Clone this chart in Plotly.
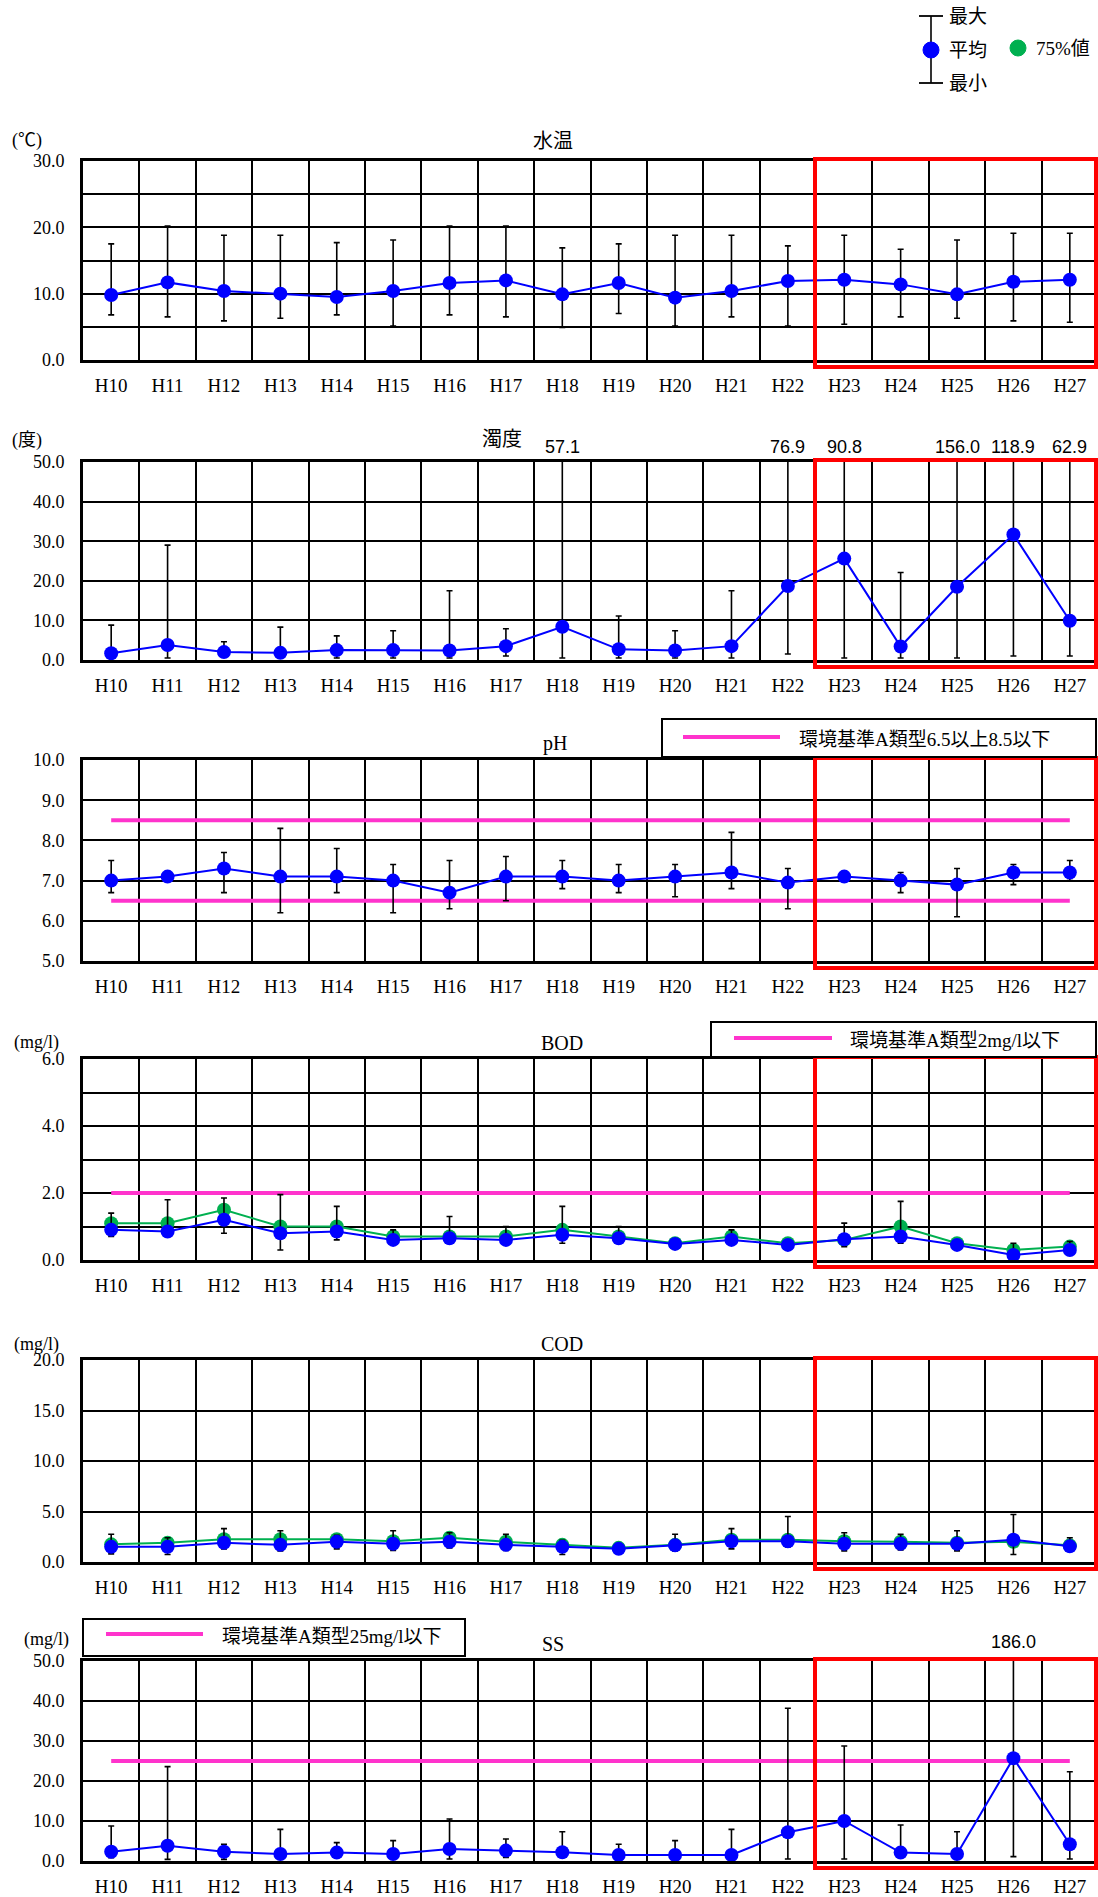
import plotly.graph_objects as go

W, H = 1098, 1897

years = ["H10", "H11", "H12", "H13", "H14", "H15", "H16", "H17", "H18",
         "H19", "H20", "H21", "H22", "H23", "H24", "H25", "H26", "H27"]

# 水温 (℃)
temp_max = [17.5, 20.2, 18.8, 18.8, 17.7, 18.1, 20.2, 20.2, 16.9, 17.5, 18.8, 18.8, 17.2, 18.8, 16.7, 18.1, 19.1, 19.1]
temp_mean = [9.8, 11.7, 10.4, 10.0, 9.5, 10.4, 11.6, 12.0, 9.9, 11.6, 9.4, 10.4, 11.9, 12.1, 11.4, 9.9, 11.8, 12.1]
temp_min = [6.8, 6.5, 5.9, 6.3, 6.8, 5.1, 6.8, 6.5, 4.9, 7.0, 5.1, 6.5, 5.1, 5.4, 6.5, 6.3, 5.9, 5.7]

# 濁度 (度)
turb_max = [8.8, 29.0, 4.6, 8.3, 6.1, 7.4, 17.5, 7.9, 57.1, 11.1, 7.4, 17.5, 76.9, 90.8, 22.1, 156.0, 118.9, 62.9]
turb_mean = [1.7, 3.8, 2.0, 1.8, 2.5, 2.5, 2.4, 3.5, 8.4, 2.7, 2.4, 3.5, 18.7, 25.6, 3.4, 18.5, 31.7, 9.9]
turb_min = [1.0, 0.5, 1.0, 1.0, 0.5, 0.5, 0.5, 1.0, 0.5, 0.5, 0.5, 0.5, 1.5, 0.5, 0.5, 0.5, 1.0, 1.0]

# pH
ph_max = [7.5, 7.2, 7.7, 8.3, 7.8, 7.4, 7.5, 7.6, 7.5, 7.4, 7.4, 8.2, 7.3, 7.2, 7.2, 7.3, 7.4, 7.5]
ph_mean = [7.0, 7.1, 7.3, 7.1, 7.1, 7.0, 6.7, 7.1, 7.1, 7.0, 7.1, 7.2, 6.95, 7.1, 7.0, 6.9, 7.2, 7.2]
ph_min = [6.7, 7.0, 6.7, 6.2, 6.7, 6.2, 6.3, 6.5, 6.8, 6.7, 6.6, 6.8, 6.3, 7.05, 6.7, 6.1, 6.9, 7.0]

# BOD (mg/l)
bod_max = [1.4, 1.8, 1.85, 1.95, 1.6, 0.9, 1.3, 1.0, 1.6, 1.0, 0.5, 0.9, 0.5, 1.1, 1.75, 0.5, 0.5, 0.55]
bod_p75 = [1.1, 1.1, 1.5, 1.0, 1.0, 0.7, 0.7, 0.7, 0.9, 0.7, 0.5, 0.7, 0.5, 0.6, 1.0, 0.5, 0.3, 0.4]
bod_mean = [0.9, 0.85, 1.2, 0.8, 0.85, 0.6, 0.65, 0.6, 0.75, 0.65, 0.48, 0.6, 0.45, 0.62, 0.7, 0.45, 0.15, 0.3]
bod_min = [0.7, 0.8, 0.8, 0.3, 0.6, 0.5, 0.5, 0.5, 0.5, 0.5, 0.4, 0.5, 0.4, 0.4, 0.5, 0.4, 0.1, 0.2]

# COD (mg/l)
cod_max = [2.75, 2.4, 3.3, 3.1, 2.65, 3.1, 2.9, 2.75, 2.15, 1.6, 2.75, 3.3, 4.5, 2.9, 2.75, 3.1, 4.7, 2.4]
cod_p75 = [1.75, 1.9, 2.25, 2.25, 2.25, 2.05, 2.4, 2.0, 1.7, 1.4, 1.7, 2.2, 2.2, 2.05, 2.0, 1.9, 2.0, 1.65]
cod_mean = [1.5, 1.5, 1.9, 1.7, 2.0, 1.8, 2.0, 1.7, 1.5, 1.3, 1.65, 2.05, 2.05, 1.8, 1.8, 1.8, 2.2, 1.55]
cod_min = [0.8, 0.75, 1.3, 1.1, 1.3, 1.15, 1.4, 1.15, 0.75, 1.0, 1.1, 1.3, 1.5, 1.1, 1.2, 1.1, 0.75, 1.1]

# SS (mg/l)
ss_max = [8.75, 23.6, 4.2, 7.9, 4.6, 5.1, 10.5, 5.5, 7.3, 4.2, 5.1, 7.9, 38.2, 28.75, 9.0, 7.3, 186.0, 22.3]
ss_mean = [2.3, 3.8, 2.3, 1.75, 2.1, 1.75, 3.0, 2.6, 2.2, 1.5, 1.5, 1.5, 7.2, 10.0, 2.1, 1.75, 25.7, 4.2]
ss_min = [0.8, 0.4, 0.4, 1.0, 1.0, 1.0, 0.5, 0.9, 1.0, 0.8, 1.0, 1.0, 0.5, 0.5, 1.0, 1.0, 1.1, 0.5]

# 環境基準
ph_std_low = 6.5
ph_std_high = 8.5
bod_std = 2.0
ss_std = 25.0

FONT = "Liberation Serif, Noto Sans CJK JP, serif"
BLUE = "#0000FF"
GREEN = "#00B050"
MAGENTA = "#FF33CC"


def xp(px):
    return px / W


def yp(py):
    return 1 - py / H


panels = [
    dict(title="水温", unit="(℃)", top=161, bottom=360, yr=[0, 30], dtick=10, minor=5,
         mx=temp_max, mean=temp_mean, mn=temp_min, p75=None, std=[], tx=553, ty=141, ux=27, uy=140),
    dict(title="濁度", unit="(度)", top=462, bottom=660, yr=[0, 50], dtick=10, minor=None,
         mx=turb_max, mean=turb_mean, mn=turb_min, p75=None, std=[], tx=502, ty=439, ux=27, uy=441),
    dict(title="pH", unit="", top=760, bottom=961, yr=[5, 10], dtick=1, minor=None,
         mx=ph_max, mean=ph_mean, mn=ph_min, p75=None, std=[ph_std_low, ph_std_high], tx=555, ty=744, ux=27, uy=744),
    dict(title="BOD", unit="(mg/l)", top=1059, bottom=1260, yr=[0, 6], dtick=2, minor=1,
         mx=bod_max, mean=bod_mean, mn=bod_min, p75=bod_p75, std=[bod_std], tx=562, ty=1043, ux=36, uy=1042),
    dict(title="COD", unit="(mg/l)", top=1360, bottom=1562, yr=[0, 20], dtick=5, minor=None,
         mx=cod_max, mean=cod_mean, mn=cod_min, p75=cod_p75, std=[], tx=562, ty=1344, ux=36, uy=1344),
    dict(title="SS", unit="(mg/l)", top=1661, bottom=1861, yr=[0, 50], dtick=10, minor=None,
         mx=ss_max, mean=ss_mean, mn=ss_min, p75=None, std=[ss_std], tx=553, ty=1644, ux=46, uy=1639),
]

fig = go.Figure()
shapes = []
annotations = []
layout_axes = {}

for i, p in enumerate(panels, start=1):
    xa = "x" if i == 1 else f"x{i}"
    ya = "y" if i == 1 else f"y{i}"
    xkey = "xaxis" if i == 1 else f"xaxis{i}"
    ykey = "yaxis" if i == 1 else f"yaxis{i}"

    # standard lines
    for s in p["std"]:
        fig.add_trace(go.Scatter(x=years, y=[s] * len(years), mode="lines",
                                 line=dict(color=MAGENTA, width=4), xaxis=xa, yaxis=ya,
                                 showlegend=False, hoverinfo="skip"))
    # 75% values
    if p["p75"] is not None:
        fig.add_trace(go.Scatter(x=years, y=p["p75"], mode="lines+markers",
                                 line=dict(color=GREEN, width=2),
                                 marker=dict(color=GREEN, size=14),
                                 xaxis=xa, yaxis=ya, showlegend=False))
    # mean with min/max error bars
    fig.add_trace(go.Scatter(
        x=years, y=p["mean"], mode="lines+markers",
        line=dict(color=BLUE, width=2),
        marker=dict(color=BLUE, size=14),
        error_y=dict(type="data", symmetric=False,
                     array=[a - b for a, b in zip(p["mx"], p["mean"])],
                     arrayminus=[b - c for b, c in zip(p["mean"], p["mn"])],
                     color="black", thickness=1.6, width=3),
        xaxis=xa, yaxis=ya, showlegend=False))

    # off-scale maximum labels
    for yr_, v in zip(years, p["mx"]):
        if v > p["yr"][1]:
            annotations.append(dict(x=yr_, y=p["yr"][1], xref=xa, yref=ya, text=f"{v:.1f}",
                                    showarrow=False, yanchor="bottom", xanchor="center",
                                    yshift=3 if i == 2 else 7,
                                    font=dict(family="Liberation Sans Narrow, Liberation Sans, Arial",
                                              size=18, color="black")))

    yd = [yp(p["bottom"]), yp(p["top"])]
    layout_axes[xkey] = dict(
        domain=[xp(83), 1.0], anchor=ya, type="category", range=[-0.5, 17.5],
        tickson="boundaries", showgrid=True, gridcolor="black", gridwidth=1.5,
        showline=True, linecolor="black", linewidth=3, mirror=True, ticks="",
        ticklabelstandoff=6, automargin=False,
        tickfont=dict(family=FONT, size=19, color="black"), fixedrange=True)
    yaxis = dict(
        domain=yd, anchor=xa, range=p["yr"], dtick=p["dtick"], tick0=p["yr"][0],
        tickformat=".1f", showgrid=True, gridcolor="black", gridwidth=2,
        zeroline=False, showline=True, linecolor="black", linewidth=3, mirror=True,
        ticks="", ticklabelstandoff=12, automargin=False,
        tickfont=dict(family=FONT, size=18, color="black"), fixedrange=True)
    if p["minor"]:
        yaxis["minor"] = dict(dtick=p["minor"], showgrid=True, gridcolor="black", gridwidth=1.5)
    layout_axes[ykey] = yaxis

    # title and unit
    annotations.append(dict(x=xp(p["tx"]), y=yp(p["ty"]), xref="paper", yref="paper",
                            text=p["title"], showarrow=False, xanchor="center", yanchor="middle",
                            font=dict(family=FONT, size=20, color="black")))
    if p["unit"]:
        annotations.append(dict(x=xp(p["ux"]), y=yp(p["uy"]), xref="paper", yref="paper",
                                text=p["unit"], showarrow=False, xanchor="center", yanchor="middle",
                                font=dict(family=FONT, size=18, color="black")))

    # red highlight box
    shapes.append(dict(type="rect", xref="paper", yref="paper",
                       x0=xp(815), x1=xp(1096), y0=yp(p["bottom"] + 7), y1=yp(p["top"] - 2),
                       line=dict(color="#FF0000", width=4), fillcolor="rgba(0,0,0,0)", layer="above"))


def std_legend(x0, x1, y0, y1, lx0, lx1, ly, tx, text):
    shapes.append(dict(type="rect", xref="paper", yref="paper", x0=xp(x0), x1=xp(x1),
                       y0=yp(y1), y1=yp(y0), line=dict(color="black", width=2), fillcolor="white",
                       layer="above"))
    shapes.append(dict(type="line", xref="paper", yref="paper", x0=xp(lx0), x1=xp(lx1),
                       y0=yp(ly), y1=yp(ly), line=dict(color=MAGENTA, width=4), layer="above"))
    annotations.append(dict(x=xp(tx), y=yp(ly + 2), xref="paper", yref="paper", text=text,
                            showarrow=False, xanchor="left", yanchor="middle",
                            font=dict(family=FONT, size=19, color="black")))


std_legend(662, 1096, 719, 757, 683, 780, 737, 797, "環境基準A類型6.5以上8.5以下")
std_legend(711, 1096, 1022, 1057, 734, 832, 1038, 848, "環境基準A類型2mg/l以下")
std_legend(83, 465, 1619, 1656, 106, 203, 1634, 220, "環境基準A類型25mg/l以下")

# top legend (max / mean / min / 75%)
shapes += [
    dict(type="line", xref="paper", yref="paper", x0=xp(931), x1=xp(931), y0=yp(16), y1=yp(83),
         line=dict(color="black", width=1.6)),
    dict(type="line", xref="paper", yref="paper", x0=xp(919), x1=xp(943), y0=yp(16), y1=yp(16),
         line=dict(color="black", width=1.8)),
    dict(type="line", xref="paper", yref="paper", x0=xp(919), x1=xp(943), y0=yp(83), y1=yp(83),
         line=dict(color="black", width=1.8)),
    dict(type="circle", xref="paper", yref="paper", x0=xp(923), x1=xp(939), y0=yp(58), y1=yp(42),
         line=dict(color=BLUE, width=1), fillcolor=BLUE),
    dict(type="circle", xref="paper", yref="paper", x0=xp(1010), x1=xp(1026), y0=yp(56), y1=yp(40),
         line=dict(color=GREEN, width=1), fillcolor=GREEN),
]
for txt, yy in [("最大", 17), ("平均", 51), ("最小", 84)]:
    annotations.append(dict(x=xp(947), y=yp(yy), xref="paper", yref="paper", text=txt,
                            showarrow=False, xanchor="left", yanchor="middle",
                            font=dict(family=FONT, size=19, color="black")))
annotations.append(dict(x=xp(1034), y=yp(49), xref="paper", yref="paper", text="75%値",
                        showarrow=False, xanchor="left", yanchor="middle",
                        font=dict(family=FONT, size=19, color="black")))

fig.update_layout(
    width=W, height=H, margin=dict(l=0, r=0, t=0, b=0, autoexpand=False),
    paper_bgcolor="white", plot_bgcolor="white",
    showlegend=False, shapes=shapes, annotations=annotations,
    **layout_axes,
)

fig.write_html("out.html")
